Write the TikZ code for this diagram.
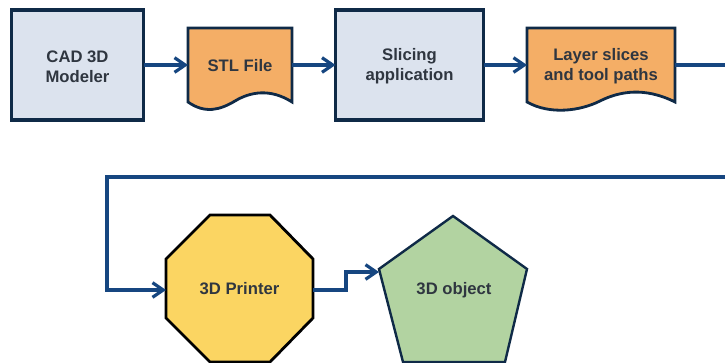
\documentclass[tikz,border=0pt]{standalone}
\usepackage{fontspec}
\setmainfont{Liberation Sans}
\usetikzlibrary{arrows.meta}
\definecolor{boxfill}{HTML}{DCE3EE}
\definecolor{boxline}{HTML}{0F2A47}
\definecolor{docfill}{HTML}{F4AE66}
\definecolor{octfill}{HTML}{FBD562}
\definecolor{pentfill}{HTML}{B2D3A1}
\definecolor{link}{HTML}{164680}
\definecolor{ink}{HTML}{2F3640}
\newcommand{\twoline}{\rule{0pt}{11.5pt}}
\newcommand{\oneline}{\rule{0pt}{10.6pt}}
\tikzset{
  x=0.75pt,y=-0.75pt,
  lbl/.style={font=\bfseries\fontsize{12.5}{15}\selectfont,text=ink,align=center,inner sep=0pt,outer sep=0pt},
  procbox/.style={lbl,draw=boxline,fill=boxfill,line width=2.5pt,minimum width=99pt,minimum height=82.5pt},
  docshape/.style={draw=boxline,fill=docfill,line width=2.1pt,line join=miter},
  conn/.style={draw=link,line width=2.4pt,line join=miter,-{Straight Barb[length=8pt,width=11pt,line width=2.4pt]}},
  plainconn/.style={draw=link,line width=2.4pt},
}
\begin{document}
\begin{tikzpicture}
\useasboundingbox (0,0) rectangle (725,363);
% process boxes
\node[procbox] (cad) at (77.5,65) {\twoline CAD 3D\\Modeler};
\node[procbox,minimum width=111pt] (slice) at (409.5,65) {\twoline Slicing\\application};
% documents
\draw[docshape] (188,28) -- (292,28) -- (292,102) .. controls (270,88) and (250,92) .. (235,101) .. controls (220,110) and (205,114) .. (188,102) -- cycle;
\node[lbl,minimum width=78pt,minimum height=63pt] (stl) at (240,65) {\oneline STL File};
\draw[docshape] (527,28) -- (675,28) -- (675,102) .. controls (645,87) and (620,91) .. (600,101) .. controls (580,111) and (550,115) .. (527,102) -- cycle;
\node[lbl,minimum width=111pt,minimum height=63pt] (layer) at (601,65) {\twoline Layer slices\\and tool paths};
% octagon
\draw[draw=black,fill=octfill,line width=2.1pt] (210,215) -- (270,215) -- (313,259) -- (313,318) -- (270,362) -- (210,362) -- (166,318) -- (166,259) -- cycle;
\node[lbl,minimum width=110.25pt,minimum height=110pt] (printer) at (239.5,290) {\rule[-2.2pt]{0pt}{1pt}3D Printer};
% pentagon
\draw[draw=boxline,fill=pentfill,line width=1.8pt,line join=miter] (453,216) -- (527,269) -- (505,362) -- (403,362) -- (379,269) -- cycle;
\coordinate (objleft) at (379,272);
\node[lbl] (object) at (454,290) {3D object};
% free end coordinates
\coordinate (edgeA) at (725,65);
\coordinate (edgeB) at (725,177);
\coordinate (turnA) at (107,177);
\coordinate (turnB) at (107,290);
\coordinate (stepA) at (346,290);
\coordinate (stepB) at (346,272);
% connectors
\draw[conn] (cad.east) -- (stl.west);
\draw[conn] (stl.east) -- (slice.west);
\draw[conn] (slice.east) -- (layer.west);
\draw[plainconn] (layer.east) -- (edgeA);
\draw[conn] (edgeB) -- (turnA) -- (turnB) -- (printer.west);
\draw[conn] (printer.east) -- (stepA) -- (stepB) -- (objleft);
\end{tikzpicture}
\end{document}
